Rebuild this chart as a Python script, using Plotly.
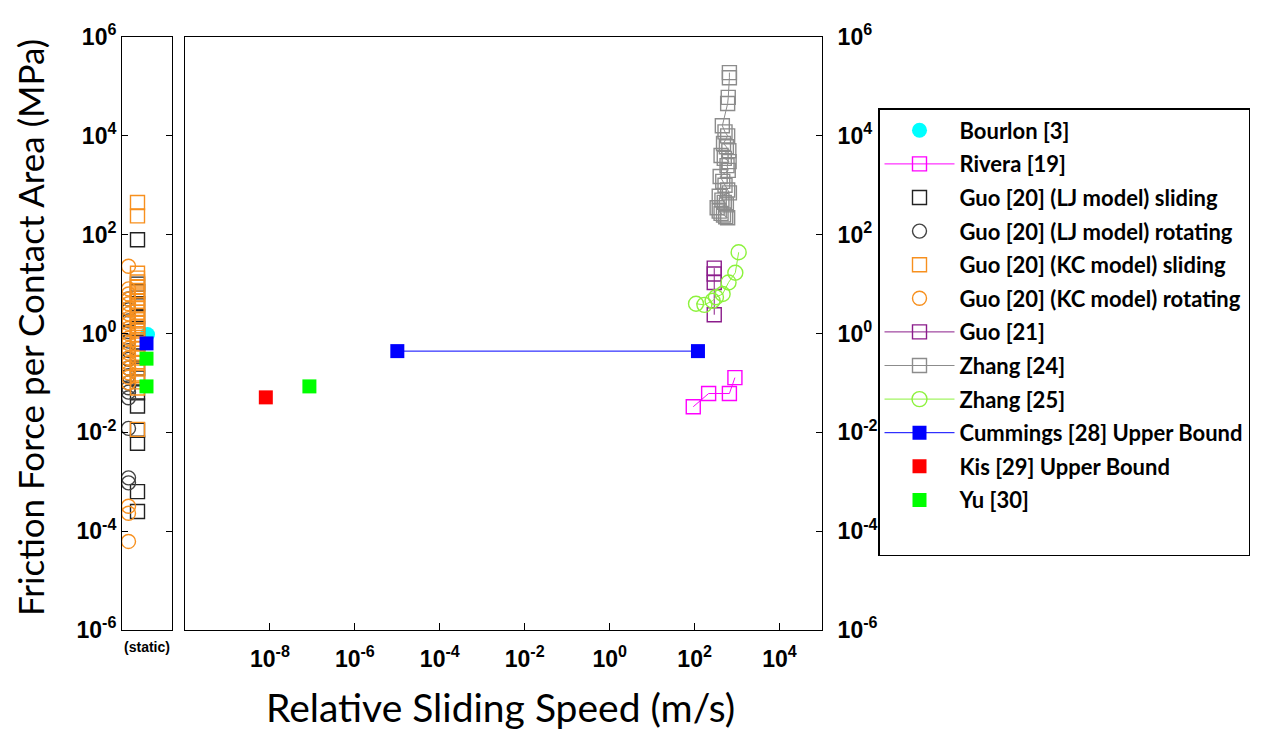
import plotly.graph_objects as go

# ---------------- data ----------------
# static (zero-speed) results, friction in MPa
bourlon_static = [0.95]
guo20_lj_sliding = [79, 10, 7, 4, 2.2, 1.26, 0.63, 0.35, 0.2, 0.126, 0.063, 0.034,
                    0.011, 0.006, 0.00063, 0.00025]
guo20_lj_rotating = [5, 3, 1.8, 1.1, 0.7, 0.45, 0.3, 0.2, 0.14, 0.1, 0.08, 0.065,
                     0.05, 0.012, 0.0012, 0.00095]
guo20_kc_sliding = [447, 240, 16.6, 13.2, 11, 8.9, 7.4, 6.3, 5.2, 4.5, 3.8, 3.2, 2.7,
                    2.3, 1.9, 1.6, 1.35, 1.12, 0.93, 0.76, 0.63, 0.5, 0.4, 0.32, 0.25,
                    0.19, 0.14, 0.105, 0.079, 0.0115]
guo20_kc_rotating = [23, 8, 6.3, 5, 4, 3.2, 2.5, 2, 1.6, 1.26, 1, 0.8, 0.63, 0.5, 0.4,
                     0.32, 0.25, 0.2, 0.16, 0.13, 0.1, 0.00032, 0.00023, 0.000062]
cummings_static = [0.63]
yu_static = [0.31, 0.085]

# sliding results (speed m/s, friction MPa)
rivera_speed = [93, 214, 660, 890]
rivera_force = [0.033, 0.061, 0.061, 0.128]

guo21_speed = [290, 290, 290, 290]
guo21_force = [21, 16, 10.8, 2.4]

zhang24_speed = [660, 660, 620, 600, 450, 520, 600, 480, 560, 640, 420, 500, 650,
                 580, 620, 400, 460, 520, 600, 660, 380, 440, 500, 560, 340, 380,
                 420, 480, 540, 600]
zhang24_force = [1.9e5, 1.5e5, 6e4, 4.5e4, 1.6e4, 1.2e4, 1.0e4, 7e3, 6e3, 5e3, 4e3,
                 3.5e3, 3e3, 2.5e3, 2e3, 1.5e3, 1.2e3, 1.0e3, 800, 700, 600, 500,
                 450, 400, 350, 300, 270, 250, 230, 220]

zhang25_speed = [108, 170, 265, 318, 457, 630, 910, 1090]
zhang25_force = [4.0, 3.8, 4.6, 5.4, 6.3, 10.8, 17, 44]

cummings_speed = [1e-5, 120]
cummings_force = [0.44, 0.44]

kis_speed = [8e-9]
kis_force = [0.051]

yu_speed = [8.5e-8]
yu_force = [0.085]

x_tick_exp = [-8, -6, -4, -2, 0, 2, 4]
y_tick_exp = [-6, -4, -2, 0, 2, 4, 6]

# ---------------- styling ----------------
C_CYAN = "#00FFFF"
C_MAG = "#FF00FF"
C_BLACK = "#222222"
C_DGRAY = "#444444"
C_ORANGE = "#F7901E"
C_PURPLE = "#8B1C8B"
C_GRAY = "#8C8C8C"
C_LGREEN = "#8CF23C"
C_BLUE = "#0000FF"
C_RED = "#FF0000"
C_GREEN = "#00FF00"

# column positions inside the static panel (x axis 0..1)
POS = {"lj_rot": 0.13, "kc_rot": 0.13, "lj_sl": 0.31, "kc_sl": 0.31,
       "bourlon": 0.51, "cum": 0.49, "yu": 0.49}

fig = go.Figure()

def open_marker(symbol, color, size=14):
    return dict(symbol=symbol, size=size, color="rgba(0,0,0,0)",
                line=dict(color=color, width=1.4))

def solid_marker(symbol, color, size=14):
    return dict(symbol=symbol, size=size, color=color, line=dict(width=0))

fig.add_trace(go.Scatter(x=[POS["bourlon"]] * len(bourlon_static), y=bourlon_static,
                         xaxis="x", yaxis="y", mode="markers",
                         marker=solid_marker("circle", C_CYAN, 15),
                         name="Bourlon [3]", legendgroup="g1"))
fig.add_trace(go.Scatter(x=rivera_speed, y=rivera_force, xaxis="x2", yaxis="y2",
                         mode="lines+markers", line=dict(color=C_MAG, width=1),
                         marker=open_marker("square", C_MAG),
                         name="Rivera [19]", legendgroup="g2"))
fig.add_trace(go.Scatter(x=[POS["lj_sl"]] * len(guo20_lj_sliding), y=guo20_lj_sliding,
                         xaxis="x", yaxis="y", mode="markers",
                         marker=open_marker("square", C_BLACK),
                         name="Guo [20] (LJ model) sliding", legendgroup="g3"))
fig.add_trace(go.Scatter(x=[POS["lj_rot"]] * len(guo20_lj_rotating), y=guo20_lj_rotating,
                         xaxis="x", yaxis="y", mode="markers",
                         marker=open_marker("circle", C_DGRAY),
                         name="Guo [20] (LJ model) rotating", legendgroup="g4"))
fig.add_trace(go.Scatter(x=[POS["kc_sl"]] * len(guo20_kc_sliding), y=guo20_kc_sliding,
                         xaxis="x", yaxis="y", mode="markers",
                         marker=open_marker("square", C_ORANGE),
                         name="Guo [20] (KC model) sliding", legendgroup="g5"))
fig.add_trace(go.Scatter(x=[POS["kc_rot"]] * len(guo20_kc_rotating), y=guo20_kc_rotating,
                         xaxis="x", yaxis="y", mode="markers",
                         marker=open_marker("circle", C_ORANGE),
                         name="Guo [20] (KC model) rotating", legendgroup="g6"))
fig.add_trace(go.Scatter(x=guo21_speed, y=guo21_force, xaxis="x2", yaxis="y2",
                         mode="lines+markers", line=dict(color=C_PURPLE, width=1),
                         marker=open_marker("square", C_PURPLE),
                         name="Guo [21]", legendgroup="g7"))
fig.add_trace(go.Scatter(x=zhang24_speed, y=zhang24_force, xaxis="x2", yaxis="y2",
                         mode="lines+markers", line=dict(color=C_GRAY, width=1),
                         marker=open_marker("square", C_GRAY),
                         name="Zhang [24]", legendgroup="g8"))
fig.add_trace(go.Scatter(x=zhang25_speed, y=zhang25_force, xaxis="x2", yaxis="y2",
                         mode="lines+markers", line=dict(color=C_LGREEN, width=1),
                         marker=open_marker("circle", C_LGREEN, 15),
                         name="Zhang [25]", legendgroup="g9"))
fig.add_trace(go.Scatter(x=cummings_speed, y=cummings_force, xaxis="x2", yaxis="y2",
                         mode="lines+markers", line=dict(color=C_BLUE, width=1),
                         marker=solid_marker("square", C_BLUE),
                         name="Cummings [28] Upper Bound", legendgroup="g10"))
fig.add_trace(go.Scatter(x=[POS["cum"]] * len(cummings_static), y=cummings_static,
                         xaxis="x", yaxis="y", mode="markers",
                         marker=solid_marker("square", C_BLUE),
                         showlegend=False, legendgroup="g10"))
fig.add_trace(go.Scatter(x=kis_speed, y=kis_force, xaxis="x2", yaxis="y2",
                         mode="markers", marker=solid_marker("square", C_RED),
                         name="Kis [29] Upper Bound", legendgroup="g11"))
fig.add_trace(go.Scatter(x=yu_speed, y=yu_force, xaxis="x2", yaxis="y2",
                         mode="markers", marker=solid_marker("square", C_GREEN),
                         name="Yu [30]", legendgroup="g12"))
fig.add_trace(go.Scatter(x=[POS["yu"]] * len(yu_static), y=yu_static,
                         xaxis="x", yaxis="y", mode="markers",
                         marker=solid_marker("square", C_GREEN),
                         showlegend=False, legendgroup="g12"))
# blank legend row: the reference legend box has empty space below the last entry
fig.add_trace(go.Scatter(x=[None], y=[None], xaxis="x2", yaxis="y2", mode="markers",
                         marker=dict(color="rgba(0,0,0,0)", size=1),
                         name=" ", legendgroup="g13", hoverinfo="skip"))

# ---------------- axes ----------------
TICKFONT = dict(family="Liberation Sans, Arial", size=23, color="black")
y_vals = [10 ** e for e in y_tick_exp]
y_text = [f"<b>10<sup>{e}</sup></b>" for e in y_tick_exp]
x_vals = [10 ** e for e in x_tick_exp]
x_text = [f"<b>10<sup>{e}</sup></b>" for e in x_tick_exp]

# page has an 8px body margin; figure sized to fit the window
OFF = 8
W, H = 1262 - OFF, 730 - OFF
L, T = 122 - OFF, 37 - OFF
R = W - (822 - OFF)
B = H - (630 - OFF)
pw = W - L - R
ph = H - T - B

def px_x(page_x):
    return (page_x - OFF - L) / pw

def px_y(page_y):
    return (H - B - (page_y - OFF)) / ph

fig.update_layout(
    width=W, height=H,
    margin=dict(l=L, r=R, t=T, b=B, pad=0, autoexpand=False),
    paper_bgcolor="white", plot_bgcolor="white",
    showlegend=True,
    xaxis=dict(domain=[0, 50 / pw], range=[0, 1], showgrid=False, zeroline=False,
               showline=True, linecolor="black", linewidth=1, mirror=True,
               ticks="", tickvals=[0.5], ticktext=["<b>(static)</b>"],
               ticklabelstandoff=4,
               tickfont=dict(family="Liberation Sans, Arial", size=14, color="black")),
    yaxis=dict(type="log", range=[-6, 6], anchor="x", showgrid=False, zeroline=False,
               showline=True, linecolor="black", linewidth=1, mirror="ticks",
               ticks="inside", ticklen=6, tickcolor="black",
               tickvals=y_vals, ticktext=y_text, tickfont=TICKFONT),
    xaxis2=dict(domain=[63 / pw, 1], type="log", range=[-10, 5], anchor="y2",
                showgrid=False, zeroline=False, showline=True, linecolor="black",
                linewidth=1, mirror=True, ticks="inside", ticklen=7, tickcolor="black",
                ticklabelstandoff=8,
                tickvals=x_vals, ticktext=x_text, tickfont=TICKFONT),
    yaxis2=dict(type="log", range=[-6, 6], anchor="x2", side="right", showgrid=False,
                zeroline=False, showline=True, linecolor="black", linewidth=1,
                mirror=True, ticks="inside", ticklen=6, tickcolor="black",
                ticklabelstandoff=10,
                tickvals=y_vals, ticktext=y_text, tickfont=TICKFONT),
    legend=dict(x=px_x(878), y=px_y(108),
                xanchor="left", yanchor="top",
                bordercolor="black", borderwidth=1.5, bgcolor="white",
                font=dict(family="Lato", size=22, color="black", weight="bold"),
                traceorder="grouped", tracegroupgap=2, itemwidth=70),
    annotations=[
        dict(text="Friction Force per Contact Area (MPa)", textangle=-90,
             xref="paper", yref="paper", x=px_x(30), y=px_y(328),
             xanchor="center", yanchor="middle", showarrow=False,
             font=dict(family="Lato", size=35, color="black")),
        dict(text="Relative Sliding Speed (m/s)",
             xref="paper", yref="paper", x=px_x(500), y=px_y(707),
             xanchor="center", yanchor="middle", showarrow=False,
             font=dict(family="Lato", size=39, color="black")),
    ],
)

fig.write_html("out.html")
